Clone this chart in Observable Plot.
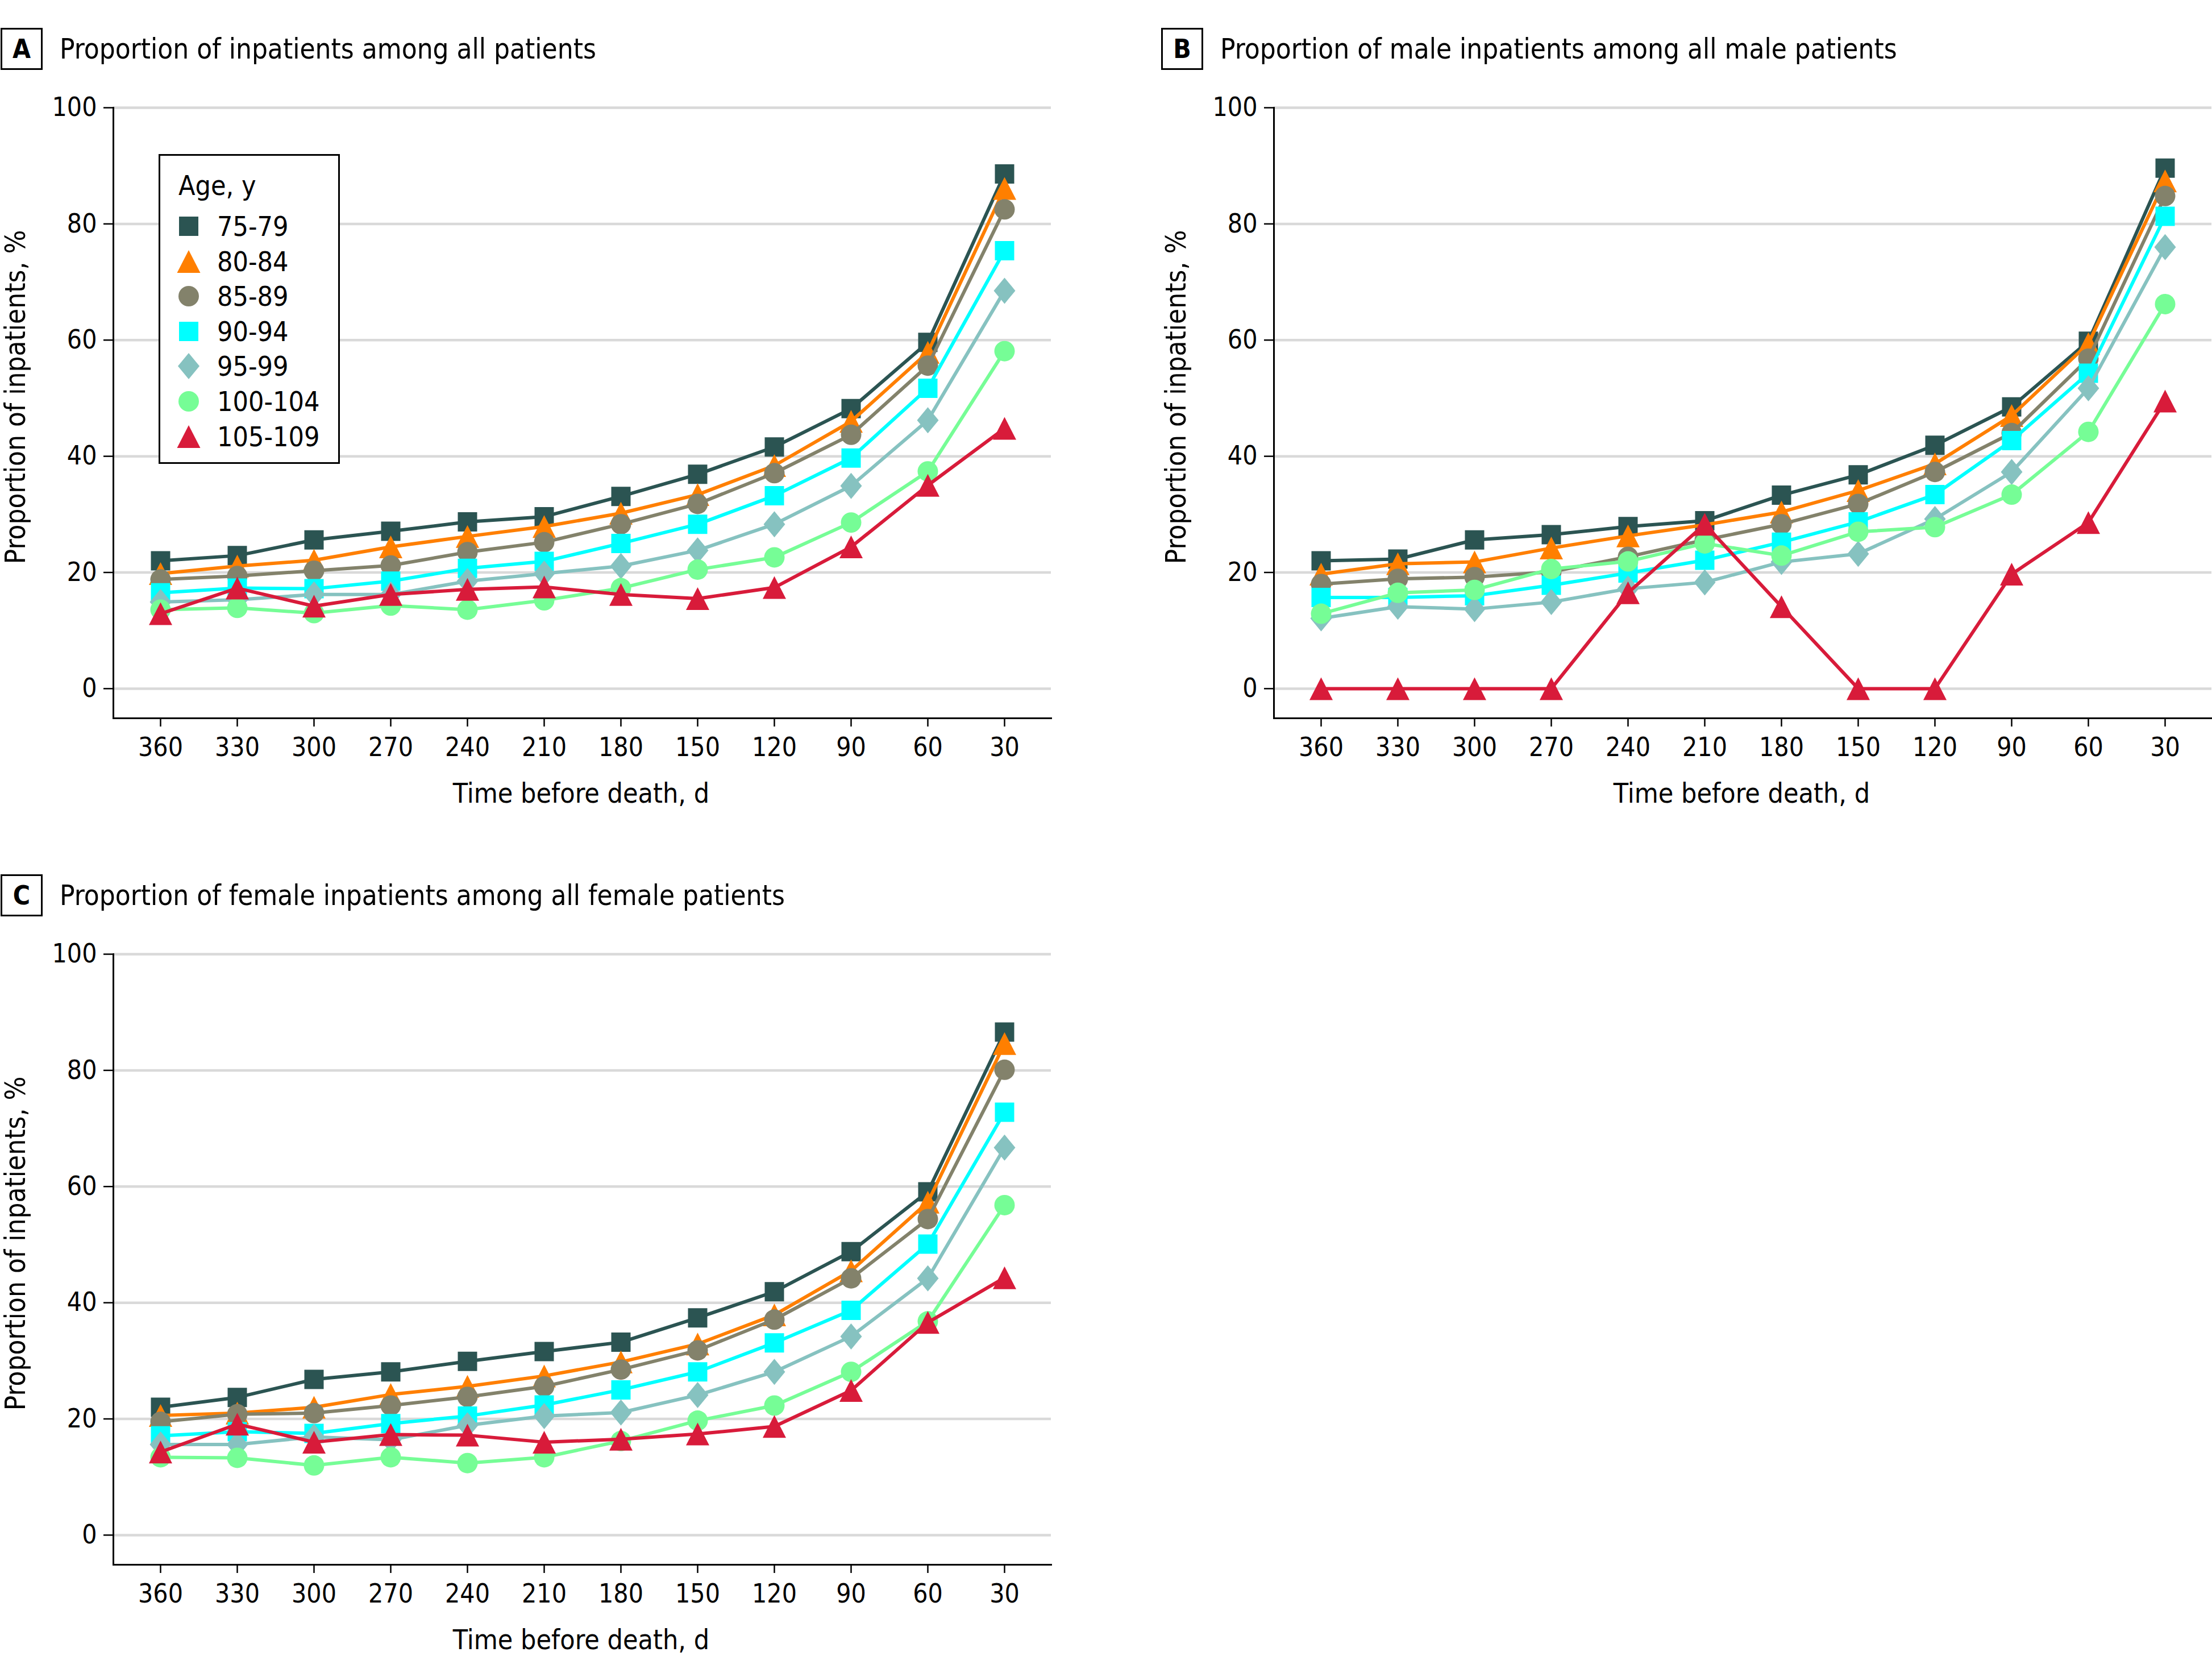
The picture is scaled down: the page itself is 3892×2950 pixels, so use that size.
<!DOCTYPE html>
<html>
<head>
<meta charset="utf-8">
<script src="https://cdn.jsdelivr.net/npm/d3@7"></script>
<script src="https://cdn.jsdelivr.net/npm/@observablehq/plot@0.6"></script>
<style>
  html, body { margin: 0; padding: 0; background: #fff; }
  body {
    width: 3892px; height: 2950px; position: relative; overflow: hidden;
    font-family: 'DejaVu Sans Condensed', 'DejaVu Sans', sans-serif;
    font-stretch: condensed; color: #000;
  }
  .panel { position: absolute; }
  .panel svg { max-width: none !important; overflow: visible;
    font-family: 'DejaVu Sans Condensed', 'DejaVu Sans', sans-serif; font-stretch: condensed; }
  .tag { position: absolute; box-sizing: border-box; width: 74px; height: 74px; border: 3px solid #000;
    font-weight: bold; font-size: 46px; display: flex; align-items: center; justify-content: center; }
  .title { position: absolute; font-size: 49px; height: 74px; line-height: 74px; white-space: nowrap; }
  .legend { position: absolute; box-sizing: border-box; left: 279px; top: 271px; width: 319px; height: 545px;
    border: 3px solid #000; background: #fff; }
  .legend .head { position: absolute; left: 32px; top: 24px; font-size: 48px; line-height: 56px; }
  .legend .row { position: absolute; left: 0; height: 56px; width: 100%; }
  .legend .row svg { position: absolute; left: 18px; top: 0; }
  .legend .row span { position: absolute; left: 100px; top: 0; font-size: 48px; line-height: 56px; }
</style>
</head>
<body>
<div id="root"></div>
<script>
// ---------- data ----------
const days = [360, 330, 300, 270, 240, 210, 180, 150, 120, 90, 60, 30];
const ageGroups = ["75-79", "80-84", "85-89", "90-94", "95-99", "100-104", "105-109"];
const yTicks = [0, 20, 40, 60, 80, 100];

// Panel A: all patients
const all75_79   = [22.0, 22.9, 25.6, 27.1, 28.7, 29.6, 33.1, 36.9, 41.6, 48.2, 59.6, 88.6];
const all80_84   = [19.8, 21.1, 22.1, 24.4, 26.2, 27.9, 30.2, 33.4, 38.4, 46.0, 57.9, 86.1];
const all85_89   = [18.8, 19.4, 20.3, 21.2, 23.5, 25.2, 28.3, 31.8, 37.1, 43.7, 55.6, 82.5];
const all90_94   = [16.5, 17.3, 17.2, 18.5, 20.7, 21.9, 25.0, 28.3, 33.2, 39.7, 51.7, 75.4];
const all95_99   = [14.9, 15.3, 16.2, 16.2, 18.5, 19.8, 21.1, 23.8, 28.3, 34.9, 46.2, 68.5];
const all100_104 = [13.6, 13.9, 13.0, 14.3, 13.6, 15.2, 17.3, 20.5, 22.6, 28.6, 37.4, 58.1];
const all105_109 = [12.9, 17.3, 14.2, 16.2, 17.1, 17.5, 16.2, 15.5, 17.4, 24.4, 35.0, 44.8];

// Panel B: male patients
const male75_79   = [22.0, 22.3, 25.6, 26.5, 27.9, 28.9, 33.3, 36.8, 41.9, 48.5, 59.8, 89.6];
const male80_84   = [19.7, 21.5, 21.8, 24.2, 26.3, 28.2, 30.4, 34.1, 38.7, 47.0, 59.4, 87.4];
const male85_89   = [18.0, 18.9, 19.2, 20.1, 22.7, 25.6, 28.3, 31.8, 37.3, 44.0, 56.8, 84.8];
const male90_94   = [15.7, 15.7, 16.0, 17.8, 19.9, 22.1, 25.2, 28.7, 33.4, 42.7, 54.3, 81.3];
const male95_99   = [12.1, 14.1, 13.7, 14.9, 17.2, 18.3, 21.8, 23.2, 29.2, 37.3, 51.7, 76.0];
const male100_104 = [12.9, 16.5, 17.0, 20.6, 21.9, 25.0, 22.9, 27.0, 27.8, 33.4, 44.2, 66.2];
const male105_109 = [0, 0, 0, 0, 16.5, 28.3, 14.1, 0, 0, 19.7, 28.6, 49.5];

// Panel C: female patients
const female75_79   = [22.0, 23.7, 26.8, 28.1, 29.9, 31.6, 33.2, 37.4, 41.9, 48.8, 59.1, 86.6];
const female80_84   = [20.6, 21.0, 22.0, 24.2, 25.6, 27.4, 29.8, 32.9, 37.9, 45.5, 57.3, 84.6];
const female85_89   = [19.5, 20.8, 21.0, 22.3, 23.8, 25.6, 28.5, 31.8, 37.1, 44.2, 54.4, 80.1];
const female90_94   = [17.1, 17.8, 17.5, 19.2, 20.5, 22.4, 25.0, 28.1, 33.1, 38.7, 50.1, 72.8];
const female95_99   = [15.6, 15.6, 16.9, 16.4, 18.9, 20.5, 21.1, 24.1, 28.1, 34.2, 44.2, 66.7];
const female100_104 = [13.4, 13.3, 12.0, 13.4, 12.4, 13.4, 16.2, 19.7, 22.3, 28.1, 36.8, 56.8];
const female105_109 = [14.3, 19.1, 16.0, 17.3, 17.2, 16.0, 16.5, 17.4, 18.7, 24.9, 36.6, 44.3];

const colors = ["#2b5452", "#ff7f00", "#83826b", "#00ffff", "#86c2c0", "#76fd96", "#d81b3a"];

const titles = [
  "Proportion of inpatients among all patients",
  "Proportion of male inpatients among all male patients",
  "Proportion of female inpatients among all female patients"
];
const xLabel = "Time before death, d";
const yLabel = "Proportion of inpatients, %";

// ---------- marker shapes ----------
const square = s => ({ draw(c) { c.moveTo(-s/2, -s/2); c.lineTo(s/2, -s/2); c.lineTo(s/2, s/2); c.lineTo(-s/2, s/2); c.closePath(); } });
const triangle = (w, h) => ({ draw(c) { c.moveTo(0, -h/2); c.lineTo(w/2, h/2); c.lineTo(-w/2, h/2); c.closePath(); } });
const circle = r => ({ draw(c) { c.moveTo(r, 0); c.arc(0, 0, r, 0, 2 * Math.PI); c.closePath(); } });
const diamond = (w, h) => ({ draw(c) { c.moveTo(0, -h/2); c.lineTo(w/2, 0); c.lineTo(0, h/2); c.lineTo(-w/2, 0); c.closePath(); } });
const symbols = [square(34), triangle(41, 40), circle(18), square(34), diamond(38, 46), circle(18), triangle(41, 40)];

// ---------- panels ----------
const FRAME_L = 199, FRAME_T = 189, FRAME_B = 1263, FRAME_R = 1849;

function makePanel(series, { marginRight }) {
  const width = FRAME_R + marginRight;
  const height = FRAME_B + 180;
  const marks = [Plot.ruleY(yTicks, { stroke: "#d9d9d9", strokeWidth: 4.5 })];
  series.forEach((vals, i) => {
    const data = days.map((d, j) => ({ day: d, value: vals[j], group: ageGroups[i] }));
    marks.push(Plot.line(data, { x: "day", y: "value", stroke: colors[i], strokeWidth: 6 }));
    marks.push(Plot.dot(data, { x: "day", y: "value", fill: colors[i], symbol: symbols[i], r: 18 }));
  });
  marks.push(
    Plot.frame({ anchor: "left", stroke: "#000", strokeWidth: 3 }),
    Plot.frame({ anchor: "bottom", stroke: "#000", strokeWidth: 3 }),
    Plot.axisY({ ticks: yTicks, tickSize: 17, tickPadding: 12, fontSize: 46, strokeWidth: 2.5, label: null }),
    Plot.axisX({ tickSize: 15, tickPadding: 19, fontSize: 46, strokeWidth: 2.5, label: null }),
    Plot.text([yLabel], { text: d => d, frameAnchor: "left", rotate: -90, textAnchor: "middle", lineAnchor: "top", dx: -190, dy: -28, fontSize: 49 }),
    Plot.text([xLabel], { text: d => d, frameAnchor: "bottom", textAnchor: "middle", lineAnchor: "top", dx: -2, dy: 114, fontSize: 48 })
  );
  return Plot.plot({
    width, height,
    marginLeft: FRAME_L, marginRight, marginTop: FRAME_T, marginBottom: height - FRAME_B,
    x: { type: "point", domain: days, padding: 0.6 },
    y: { domain: [-5.1, 100] },
    marks
  });
}

const root = document.getElementById("root");
function place(el, left, top) {
  const div = document.createElement("div");
  div.className = "panel";
  div.style.left = left + "px";
  div.style.top = top + "px";
  div.appendChild(el);
  root.appendChild(div);
  return div;
}
function addTitle(letter, text, left, top) {
  const tag = document.createElement("div");
  tag.className = "tag"; tag.textContent = letter;
  tag.style.left = left + "px"; tag.style.top = top + "px";
  root.appendChild(tag);
  const t = document.createElement("div");
  t.className = "title"; t.textContent = text;
  t.style.left = (left + 104) + "px"; t.style.top = (top + 1) + "px";
  root.appendChild(t);
}

place(makePanel([all75_79, all80_84, all85_89, all90_94, all95_99, all100_104, all105_109], { marginRight: 40 }), 0, 0);
place(makePanel([male75_79, male80_84, male85_89, male90_94, male95_99, male100_104, male105_109], { marginRight: 0 }), 2042, 0);
place(makePanel([female75_79, female80_84, female85_89, female90_94, female95_99, female100_104, female105_109], { marginRight: 40 }), 0, 1489);

addTitle("A", titles[0], 1, 49);
addTitle("B", titles[1], 2043, 49);
addTitle("C", titles[2], 1, 1538);

// ---------- legend (panel A) ----------
const legend = document.createElement("div");
legend.className = "legend";
const head = document.createElement("div");
head.className = "head"; head.textContent = "Age, y";
legend.appendChild(head);
ageGroups.forEach((g, i) => {
  const row = document.createElement("div");
  row.className = "row";
  row.style.top = (96 + i * 61.6) + "px";
  const svg = d3.create("svg").attr("width", 64).attr("height", 56);
  svg.append("path")
    .attr("transform", "translate(32,28)")
    .attr("fill", colors[i])
    .attr("d", d3.symbol().type(symbols[i]).size(1000)());
  row.appendChild(svg.node());
  const s = document.createElement("span");
  s.textContent = g;
  row.appendChild(s);
  legend.appendChild(row);
});
root.appendChild(legend);
</script>
</body>
</html>
